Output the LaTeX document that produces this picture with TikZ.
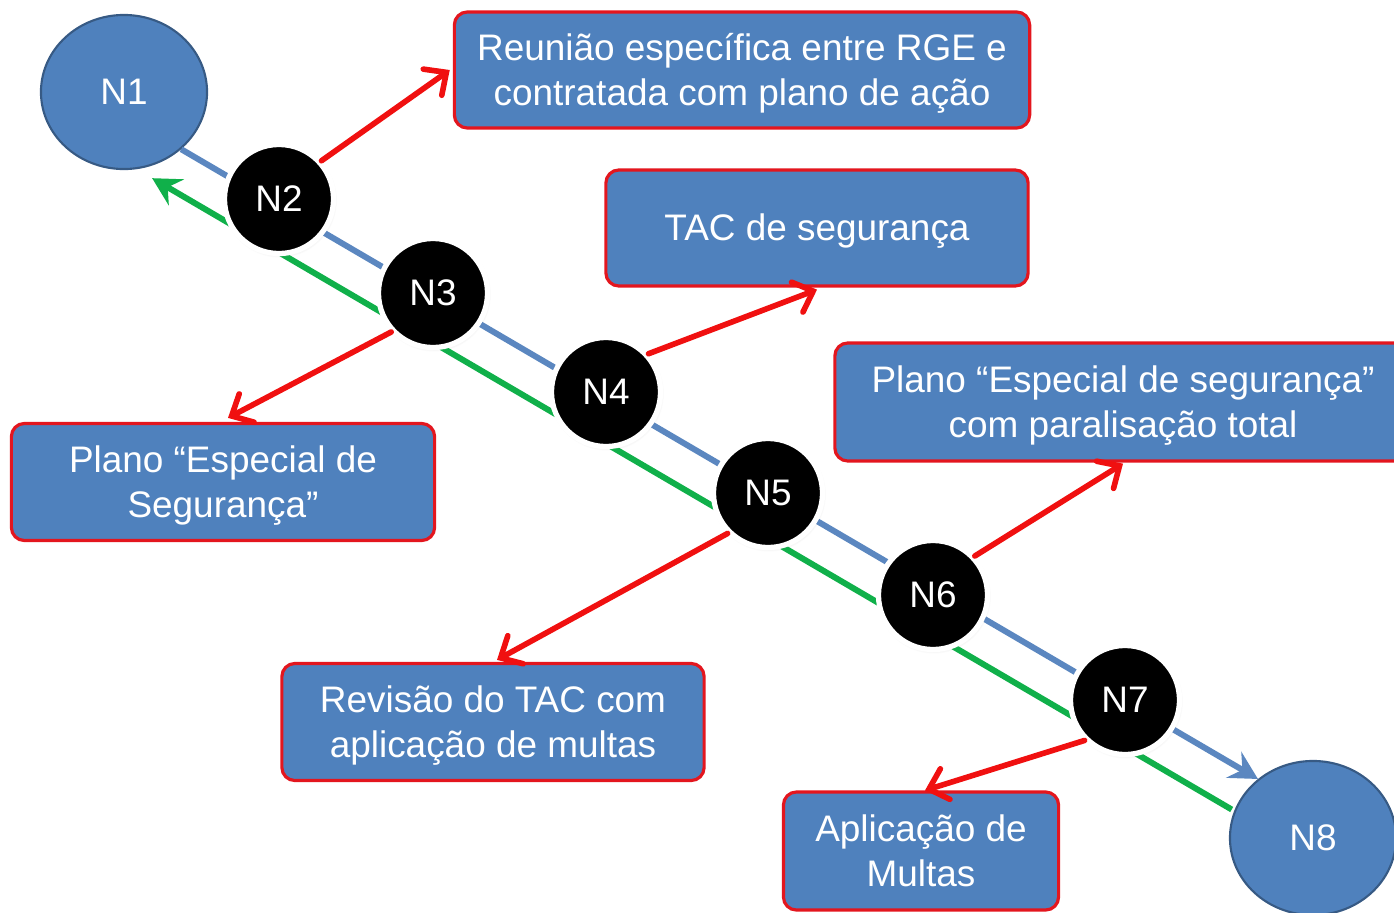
\documentclass[tikz,border=0pt]{standalone}
\usepackage{fontspec}
\setmainfont{Liberation Sans}
\usetikzlibrary{arrows.meta,shadows,shapes.geometric}
\definecolor{boxblue}{HTML}{4F81BD}
\definecolor{boxred}{HTML}{E3161E}
\definecolor{flowblue}{HTML}{5B87C0}
\definecolor{flowgreen}{HTML}{10B04A}
\definecolor{arrred}{HTML}{F01010}
\newcommand{\boxlines}[1]{\raisebox{-1pt}[\height][\depth]{\begin{tabular}{@{}c@{}}#1\end{tabular}}}
\tikzset{
  endnode/.style={ellipse, fill=boxblue, draw=boxblue!70!black, line width=0.6pt,
    minimum width=1.66cm, minimum height=1.54cm, text=white, font=\fontsize{10.5}{12.6}\selectfont},
  stepnode/.style={circle, fill=black, draw=white, line width=1.5pt, minimum size=1.09cm,
    inner sep=0pt, text=white, font=\fontsize{10.5}{12.6}\selectfont,
    circular drop shadow={opacity=0.25, shadow xshift=0.2pt, shadow yshift=-0.4pt, shadow scale=1.05}},
  infobox/.style={rectangle, rounded corners=0.13cm, fill=boxblue, draw=boxred, line width=0.9pt,
    text=white, inner sep=0pt, font=\fontsize{10.5}{12.8}\selectfont},
  flowline/.style={line width=1.7pt, -{Stealth[length=0.28cm, width=0.3cm, inset=0.1cm]}},
  redarrow/.style={draw=arrred, line width=1.6pt, line cap=round,
    -{Straight Barb[length=0.17cm, width=0.32cm, line cap=round]}}
}
\begin{document}
\begin{tikzpicture}[x=0.01cm, y=-0.01cm]
\useasboundingbox (0,0) rectangle (1394,912);
\begin{scope}
\clip (0,0) rectangle (1394,912);
% end nodes
\node[endnode] (N1) at (124,92) {N1};
\node[endnode] (N8) at (1313,838) {N8};
% boxes
\node[infobox, minimum width=5.75cm, minimum height=1.16cm] (A) at (742,70)
  {\boxlines{Reunião específica entre RGE e\\contratada com plano de ação}};
\node[infobox, minimum width=4.22cm, minimum height=1.16cm] (B) at (817,228)
  {\boxlines{TAC de segurança}};
\node[infobox, minimum width=4.23cm, minimum height=1.17cm] (C) at (223,482)
  {\boxlines{Plano “Especial de\\Segurança”}};
\node[infobox, minimum width=5.76cm, minimum height=1.18cm] (D) at (1123,402)
  {\boxlines{Plano “Especial de segurança”\\com paralisação total}};
\node[infobox, minimum width=4.22cm, minimum height=1.17cm] (E) at (493,722)
  {\boxlines{Revisão do TAC com\\aplicação de multas}};
\node[infobox, minimum width=2.75cm, minimum height=1.18cm] (F) at (921,851)
  {\boxlines{Aplicação de\\Multas}};
% flow lines
\draw[flowline, draw=flowblue, fill=flowblue] (N1.-45) -- (N8.133);
\draw[flowline, draw=flowgreen, fill=flowgreen] ([xshift=-0.03cm]N8.160) -- ([shift={(-0.04cm,-0.14cm)}]N1.-66);
% step nodes
\node[stepnode] (N2) at (279,199) {N2};
\node[stepnode] (N3) at (433,293) {N3};
\node[stepnode] (N4) at (606,392) {N4};
\node[stepnode] (N5) at (768,493) {N5};
\node[stepnode] (N6) at (933,595) {N6};
\node[stepnode] (N7) at (1125,700) {N7};
% red arrows
\draw[redarrow] (N2.42) -- ([xshift=-0.03cm]A.west);
\draw[redarrow] (N4.42) -- ([yshift=-0.02cm]B.south);
\draw[redarrow] (N3.223) -- ([xshift=0.05cm,yshift=0.04cm]C.north);
\draw[redarrow] (N6.43) -- ([yshift=-0.01cm]D.south);
\draw[redarrow] (N5.225) -- ([xshift=0.04cm,yshift=0.02cm]E.north);
\draw[redarrow] (N7.225) -- ([xshift=0.04cm]F.north);
\end{scope}
\end{tikzpicture}
\end{document}
